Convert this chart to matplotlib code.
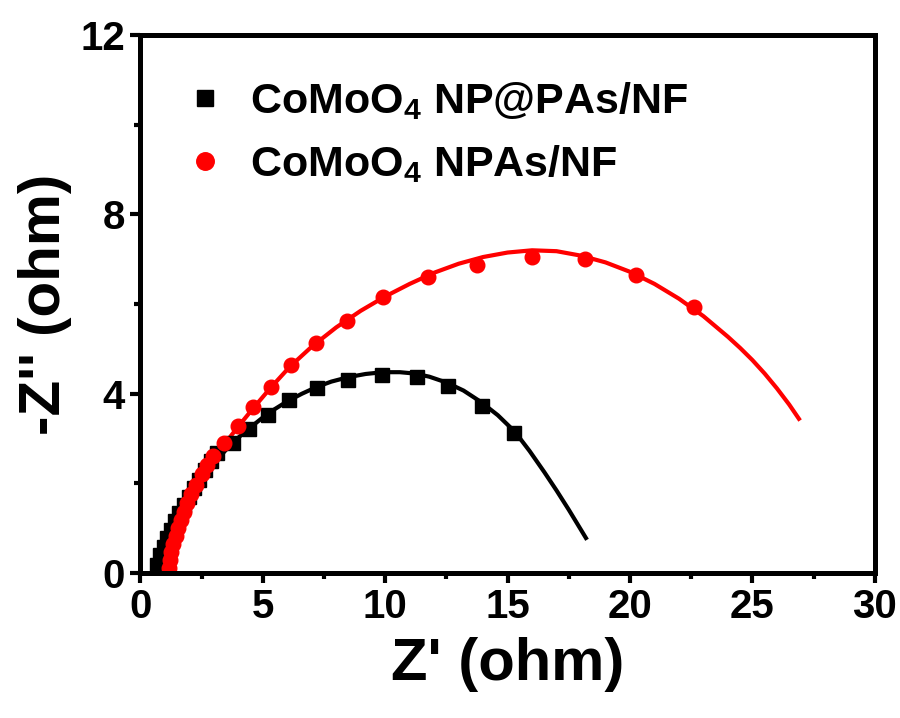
import numpy as np
import matplotlib.pyplot as plt
from matplotlib.ticker import MultipleLocator

plt.rcParams['font.family'] = ['Liberation Sans', 'DejaVu Sans']
plt.rcParams['font.weight'] = 'bold'
plt.rcParams['mathtext.fontset'] = 'custom'
plt.rcParams['mathtext.rm'] = 'Liberation Sans:bold'
plt.rcParams['mathtext.bf'] = 'Liberation Sans:bold'
plt.rcParams['mathtext.default'] = 'bf'

# CoMoO4 NP@PAs/NF - measured points
np_zre = [0.68, 0.81, 0.95, 1.08, 1.24, 1.42, 1.59, 1.78, 1.99, 2.19, 2.40, 2.65, 2.88,
          3.11, 3.78, 4.44, 5.20, 6.08, 7.23, 8.49, 9.86, 11.28, 12.58, 13.95, 15.27]
np_zim = [0.18, 0.40, 0.59, 0.77, 0.96, 1.15, 1.33, 1.52, 1.70, 1.89, 2.08, 2.30, 2.50,
          2.67, 2.91, 3.21, 3.53, 3.86, 4.12, 4.31, 4.42, 4.38, 4.17, 3.72, 3.13]
# fitted curve
np_fit_zre = [0.75, 0.85, 1.0, 1.2, 1.45, 1.75, 2.1, 2.5, 3.0, 3.5, 4.0, 4.5, 5.0, 5.5,
              6.0, 6.6, 7.2, 7.8, 8.5, 9.2, 9.9, 10.6, 11.2, 11.8, 12.5, 13.2, 13.9,
              14.6, 15.3, 15.9, 16.5, 17.0, 17.5, 18.0, 18.2]
np_fit_zim = [0.0, 0.3, 0.6, 0.9, 1.2, 1.5, 1.8, 2.1, 2.45, 2.75, 3.02, 3.25, 3.47, 3.66,
              3.83, 4.0, 4.15, 4.27, 4.37, 4.44, 4.48, 4.48, 4.45, 4.38, 4.25, 4.07, 3.82,
              3.52, 3.15, 2.72, 2.25, 1.84, 1.41, 0.96, 0.78]

# CoMoO4 NPAs/NF - measured points
npa_zre = [1.15, 1.20, 1.27, 1.35, 1.44, 1.54, 1.65, 1.78, 1.92, 2.08, 2.27, 2.50, 2.72,
           2.95, 3.43, 3.98, 4.59, 5.34, 6.15, 7.19, 8.44, 9.92, 11.75, 13.76, 15.98,
           18.17, 20.25, 22.6]
npa_zim = [0.10, 0.28, 0.46, 0.64, 0.82, 1.00, 1.18, 1.37, 1.56, 1.76, 1.97, 2.20, 2.40,
           2.60, 2.91, 3.28, 3.70, 4.16, 4.64, 5.14, 5.63, 6.15, 6.61, 6.88, 7.06,
           7.00, 6.65, 5.94]
npa_fit_zre = [1.28, 1.35, 1.45, 1.6, 1.8, 2.05, 2.35, 2.7, 3.1, 3.5, 4.0, 4.6, 5.3, 6.1,
               7.0, 8.0, 9.0, 10.0, 11.0, 12.0, 13.0, 14.0, 15.0, 16.0, 17.0, 18.0, 19.0,
               20.0, 21.0, 22.0, 23.0, 24.0, 24.5, 25.0, 25.5, 26.0, 26.5, 26.9]
npa_fit_zim = [0.0, 0.25, 0.55, 0.9, 1.25, 1.6, 1.95, 2.3, 2.62, 2.92, 3.27, 3.67, 4.12,
               4.6, 5.05, 5.48, 5.85, 6.17, 6.45, 6.7, 6.9, 7.05, 7.15, 7.2, 7.18, 7.08,
               6.93, 6.72, 6.45, 6.12, 5.73, 5.27, 5.02, 4.75, 4.45, 4.12, 3.76, 3.44]

fig = plt.figure(figsize=(9, 7.18), dpi=100)
ax = fig.add_axes([0.156, 0.202, 0.816, 0.749])

ax.plot(np_fit_zre, np_fit_zim, color='black', lw=3, solid_joinstyle='round')
ax.plot(npa_fit_zre, npa_fit_zim, color='red', lw=3, solid_joinstyle='round')
ax.plot(np_zre, np_zim, 's', color='black', ms=10, ls='none',
        label=r'CoMoO$_{4}$ NP@PAs/NF')
ax.plot(npa_zre, npa_zim, 'o', color='red', ms=10.5, ls='none',
        label=r'CoMoO$_{4}$ NPAs/NF')

ax.set_xlim(0, 30)
ax.set_ylim(0, 12)
ax.xaxis.set_major_locator(MultipleLocator(5))
ax.xaxis.set_minor_locator(MultipleLocator(2.5))
ax.yaxis.set_major_locator(MultipleLocator(4))
ax.yaxis.set_minor_locator(MultipleLocator(2))
ax.tick_params(which='both', direction='out', width=3, labelsize=29, pad=4,
               top=False, right=False)
ax.tick_params(which='major', length=7)
ax.tick_params(which='minor', length=4)
for s in ax.spines.values():
    s.set_linewidth(3.6)

ax.set_xlabel("Z' (ohm)", fontsize=43, fontweight='bold', labelpad=8)
ax.set_ylabel("-Z'' (ohm)", fontsize=42, fontweight='bold', labelpad=6)

ax.legend(loc='upper left', bbox_to_anchor=(0.035, 0.957), frameon=False,
          fontsize=31, markerscale=1.2, handlelength=0.8, handletextpad=0.65,
          borderpad=0, labelspacing=0.5, numpoints=1)

fig.savefig('out.png', dpi=100)
